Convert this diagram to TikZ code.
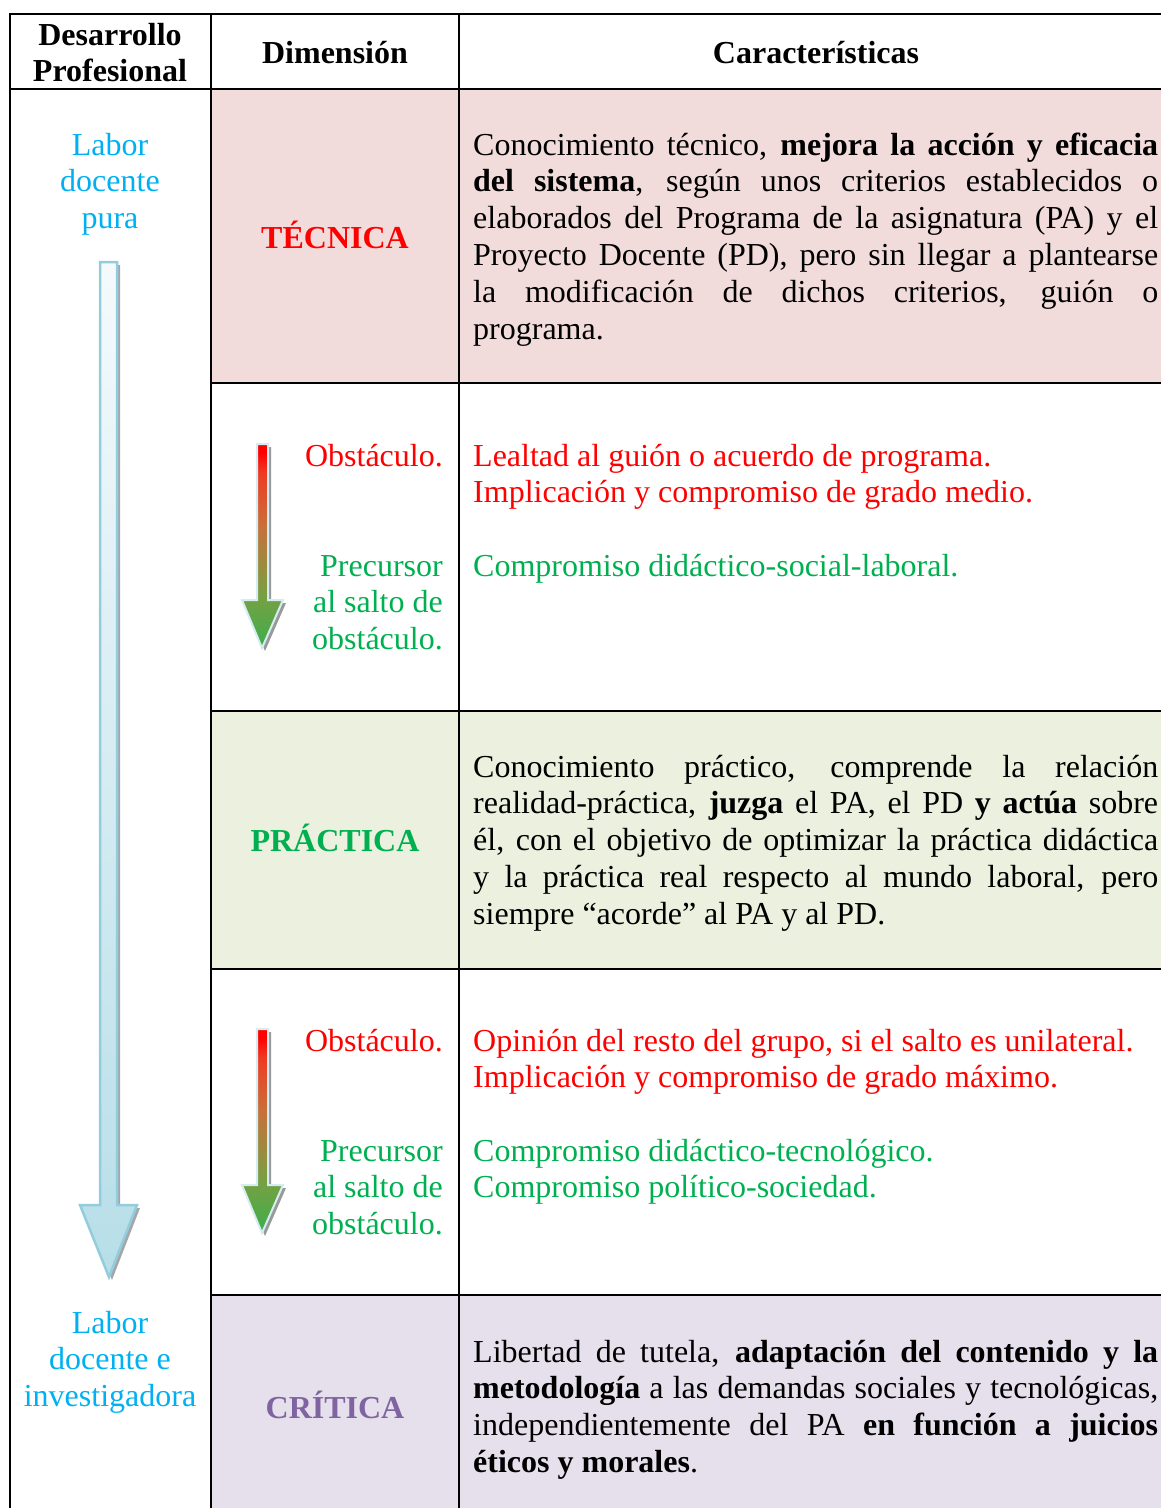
\documentclass[tikz,border=0pt]{standalone}
\usepackage{fontspec}
\setmainfont{Liberation Serif}
\usetikzlibrary{calc}

\definecolor{rowpink}{HTML}{F2DCDB}
\definecolor{rowgreen}{HTML}{EBF1DE}
\definecolor{rowlilac}{HTML}{E5E0EC}
\definecolor{txtred}{HTML}{FF0000}
\definecolor{txtgreen}{HTML}{00B050}
\definecolor{txtcyan}{HTML}{00B0F0}
\definecolor{txtpurple}{HTML}{8064A2}
\definecolor{arrowline}{HTML}{93CDDD}
\definecolor{arrowfill}{HTML}{B7DEE8}
\definecolor{arrowtop}{HTML}{F4FAFC}
\definecolor{glow}{HTML}{D5ECF3}
\definecolor{gradgreen}{HTML}{3DAE4A}
\definecolor{gradolive}{HTML}{78A043}
\definecolor{gradbrown}{HTML}{C8703A}
\definecolor{gradorange}{HTML}{F03A22}

% red-to-green fill of the transition arrows (path spans 25bp..75bp)
\pgfdeclareverticalshading{obstaclefade}{100bp}{%
  color(0bp)=(gradgreen); color(25bp)=(gradgreen); color(38bp)=(gradolive);
  color(55bp)=(gradbrown); color(68bp)=(gradorange); color(73bp)=(txtred);
  color(100bp)=(txtred)}

% paragraph boxes hung from their first baseline
\newcommand{\jpar}[1]{\parbox[t]{685pt}{#1}}
\newcommand{\rpar}[1]{\parbox[t]{160pt}{\raggedleft #1}}
\newcommand{\cpar}[1]{\parbox[t]{200pt}{\centering #1}}

\begin{document}
\hyphenpenalty=10000
\exhyphenpenalty=10000
\begin{tikzpicture}[x=1pt,y=-1pt,
  txt/.style={inner sep=0pt, font=\fontsize{32}{36.8}\selectfont},
  para/.style={txt, anchor=base west},
  hdr/.style={inner sep=0pt, font=\fontsize{32}{36}\selectfont\bfseries, anchor=base},
  dimlabel/.style={txt, font=\fontsize{32}{36.8}\selectfont\bfseries, anchor=base},
  sidelabel/.style={txt, text=txtcyan, anchor=base},
  steplabel/.style={txt, anchor=base east},
  rule/.style={line width=2pt, black},
  bigshadow/.style={fill=black!35},
  smallshadow/.style={fill=black!40}
]
\useasboundingbox (0,0) rectangle (1161,1508);

% row backgrounds
\fill[rowpink]  (211,89)   rectangle (1161,383);
\fill[rowgreen] (211,711)  rectangle (1161,969);
\fill[rowlilac] (211,1295) rectangle (1161,1508);

% table rules
\draw[rule] (10,14) -- (1161,14);
\draw[rule] (10,89) -- (1161,89);
\draw[rule] (10,13) -- (10,1508);
\draw[rule] (211,13) -- (211,1508);
\draw[rule] (459,13) -- (459,1508);
\foreach \yy in {383,711,969,1295}
  \draw[rule] (211,\yy) -- (1161,\yy);

% header
\node[hdr] (hdev) at (110,45) {\cpar{Desarrollo\\Profesional}};
\node[hdr] (hdim) at (335,63) {Dimensión};
\node[hdr] (hcar) at (816,63) {Características};

% long development arrow
\path[bigshadow] ($(100,262)+(3,3)$) -- ++(17,0) -- ++(0,943) -- ++(20,0)
  -- ++(-28,72) -- ++(-29,-72) -- ++(20,0) -- cycle;
\shade[top color=arrowtop, bottom color=arrowfill, draw=arrowline, line width=2.5pt, line join=miter]
  (100,262) -- (117,262) -- (117,1205) -- (137,1205) -- (109,1277)
  -- (80,1205) -- (100,1205) -- cycle;

\node[sidelabel] (ltop) at (110,155) {\cpar{Labor\\docente\\pura}};
\node[sidelabel] (lbot) at (110,1333) {\cpar{Labor\\docente e\\investigadora}};

% dimension names
\node[dimlabel, text=txtred]    (dtec) at (335,248)  {TÉCNICA};
\node[dimlabel, text=txtgreen]  (dpra) at (335,851)  {PRÁCTICA};
\node[dimlabel, text=txtpurple] (dcri) at (335,1418) {CRÍTICA};

% obstacle / precursor arrows
\foreach \dy in {0,585}{
  \begin{scope}[yshift=-\dy pt]
    \path[smallshadow] ($(257,444)+(3,3)$) -- ++(11,0) -- ++(0,156) -- ++(15,0)
      -- ++(-21,48) -- ++(-20,-48) -- ++(15,0) -- cycle;
    \shade[shading=obstaclefade, draw=glow, line width=2pt]
      (257,444) -- (268,444) -- (268,600) -- (283,600) -- (262,648)
      -- (242,600) -- (257,600) -- cycle;
  \end{scope}
}

% step labels, first transition
\node[steplabel, text=txtred]   (obs1) at (443,466) {Obstáculo.};
\node[steplabel, text=txtgreen] (pre1) at (443,576) {\rpar{Precursor\\al salto de\\obstáculo.}};
% step labels, second transition
\node[steplabel, text=txtred]   (obs2) at (443,1051) {Obstáculo.};
\node[steplabel, text=txtgreen] (pre2) at (443,1161) {\rpar{Precursor\\al salto de\\obstáculo.}};

% characteristics
\node[para] (ctec) at (473,155) {\jpar{Conocimiento técnico, \textbf{mejora la acción y eficacia}\linebreak
\textbf{del sistema}, según unos criterios establecidos o\linebreak
elaborados del Programa de la asignatura (PA) y el\linebreak
Proyecto Docente (PD), pero sin llegar a plantearse\linebreak
la modificación de dichos criterios, guión o\linebreak
programa.}};

\node[para, text=txtred] (cobs1) at (473,466) {\jpar{Lealtad al guión o acuerdo de programa.\\
Implicación y compromiso de grado medio.}};
\node[para, text=txtgreen] (cpre1) at (473,576) {\jpar{Compromiso didáctico-social-laboral.}};

\node[para] (cpra) at (473,777) {\jpar{Conocimiento práctico, comprende la relación\linebreak
realidad-práctica, \textbf{juzga} el PA, el PD \textbf{y actúa} sobre\linebreak
él, con el objetivo de optimizar la práctica didáctica\linebreak
y la práctica real respecto al mundo laboral, pero\linebreak
siempre “acorde” al PA y al PD.}};

\node[para, text=txtred] (cobs2) at (473,1051) {\jpar{Opinión del resto del grupo, si el salto es unilateral.\\
Implicación y compromiso de grado máximo.}};
\node[para, text=txtgreen] (cpre2) at (473,1161) {\jpar{Compromiso didáctico-tecnológico.\\
Compromiso político-sociedad.}};

\node[para] (ccri) at (473,1362) {\jpar{Libertad de tutela, \textbf{adaptación del contenido y la}\linebreak
\textbf{metodología} a las demandas sociales y tecnológicas,\linebreak
independientemente del PA \textbf{en función a juicios}\linebreak
\textbf{éticos y morales}.}};
\end{tikzpicture}
\end{document}
